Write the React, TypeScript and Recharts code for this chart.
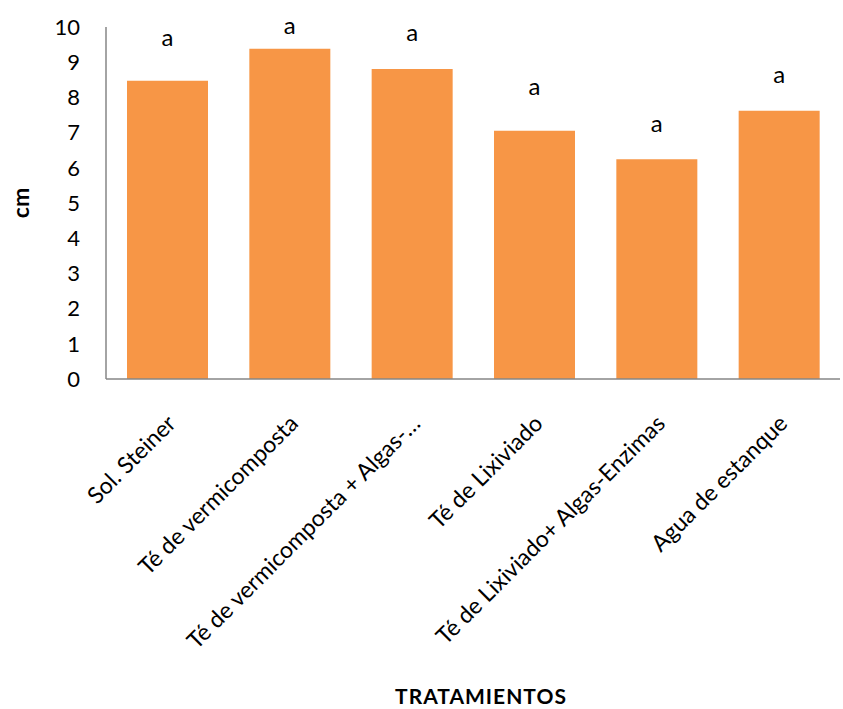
import { BarChart, Bar, XAxis, YAxis, LabelList, Label } from "recharts";

// Tratamientos (eje X)
const categorias = [
  "Sol. Steiner",
  "Té de vermicomposta",
  "Té de vermicomposta + Algas-…",
  "Té de Lixiviado",
  "Té de Lixiviado+ Algas-Enzimas",
  "Agua de estanque",
];

// Altura en cm
const alturas = [8.47, 9.38, 8.81, 7.05, 6.24, 7.62];

// Letras de significancia y su altura (en cm) sobre cada barra
const letras = ["a", "a", "a", "a", "a", "a"];
const posLetras = [9.72, 10.06, 9.87, 8.35, 7.28, 8.68];

const yTicks = [0, 1, 2, 3, 4, 5, 6, 7, 8, 9, 10];

const data = categorias.map((c, i) => ({ name: c, cm: alturas[i], letra: letras[i] }));

const FONT = "Lato, 'Open Sans', sans-serif";
const AXIS_COLOR = "#868686";

const TickRotada = ({ x, y, payload }: any) => {
  const tx = x + 10;
  const ty = y + 3;
  return (
    <text
      x={tx}
      y={ty}
      transform={`rotate(-45, ${tx}, ${ty})`}
      textAnchor="end"
      fontSize={23}
      fontFamily={FONT}
      fill="#000"
    >
      {payload.value}
    </text>
  );
};

// letra colocada a partir de la geometría de la barra (px por cm)
const LetraLabel = (props: any) => {
  const { x, y, width, height, value, index } = props;
  const v = alturas[index];
  const base = y + height;
  const pxPorCm = height / v;
  const ly = base - posLetras[index] * pxPorCm;
  return (
    <text
      x={x + width / 2}
      y={ly}
      textAnchor="middle"
      dominantBaseline="central"
      fontSize={24}
      fontFamily={FONT}
      fill="#000"
    >
      {value}
    </text>
  );
};

const App = () => {
  return (
    <div style={{ position: "absolute", top: 0, left: 0, background: "#fff" }}>
      <BarChart
        width={843}
        height={709}
        data={data}
        margin={{ top: 27, right: 3, left: 0, bottom: 0 }}
      >
        <XAxis
          dataKey="name"
          height={330}
          interval={0}
          tickLine={false}
          tickSize={0}
          tickMargin={43}
          axisLine={{ stroke: AXIS_COLOR, strokeWidth: 1.5 }}
          tick={<TickRotada />}
        >
          <Label
            content={({ viewBox }: any) => (
              <text
                x={viewBox.x + viewBox.width / 2 + 8}
                y={viewBox.y + viewBox.height - 5}
                textAnchor="middle"
                fontSize={21}
                letterSpacing={1}
                fontWeight="bold"
                fontFamily={FONT}
                fill="#000"
              >
                TRATAMIENTOS
              </text>
            )}
          />
        </XAxis>
        <YAxis
          width={106}
          domain={[0, 10]}
          ticks={yTicks}
          interval={0}
          tickLine={false}
          tickSize={0}
          tickMargin={26}
          axisLine={{ stroke: AXIS_COLOR, strokeWidth: 1.5 }}
          tick={{ fontSize: 22, fill: "#000", fontFamily: FONT }}
        >
          <Label
            content={({ viewBox }: any) => {
              const cx = viewBox.x + 20;
              const cy = viewBox.y + viewBox.height / 2;
              return (
                <text
                  x={cx}
                  y={cy}
                  transform={`rotate(-90, ${cx}, ${cy})`}
                  textAnchor="middle"
                  dominantBaseline="central"
                  fontSize={23}
                  fontWeight="bold"
                  fontFamily={FONT}
                  fill="#000"
                >
                  cm
                </text>
              );
            }}
          />
        </YAxis>
        <Bar dataKey="cm" fill="#F79646" barSize={81} isAnimationActive={false}>
          <LabelList dataKey="letra" content={<LetraLabel />} />
        </Bar>
      </BarChart>
    </div>
  );
};

export default App;
